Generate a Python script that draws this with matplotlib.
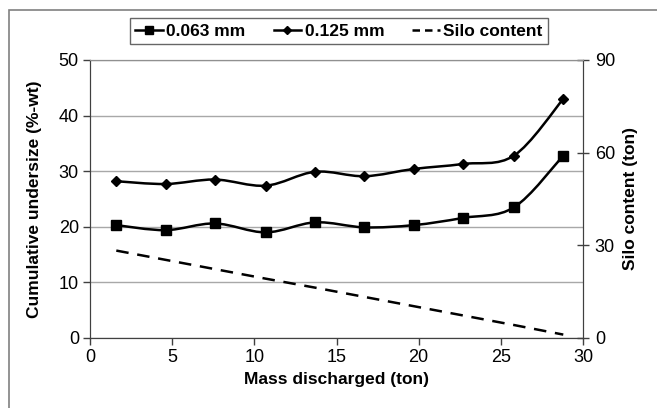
import numpy as np
import matplotlib
matplotlib.use("Agg")
import matplotlib.pyplot as plt
from matplotlib.path import Path
from matplotlib.patches import PathPatch, Rectangle
from matplotlib.lines import Line2D

mass = [1.6, 4.6, 7.6, 10.7, 13.7, 16.7, 19.7, 22.7, 25.8, 28.8]
u063 = [20.3, 19.4, 20.6, 19.0, 20.8, 19.9, 20.3, 21.6, 23.5, 32.8]
u125 = [28.2, 27.7, 28.5, 27.4, 29.9, 29.1, 30.4, 31.3, 32.8, 43.0]
silo = [28.3, 25.3, 22.3, 19.2, 16.3, 13.3, 10.3, 7.3, 4.2, 1.1]
xticks = [0, 5, 10, 15, 20, 25, 30]
yticks = [0, 10, 20, 30, 40, 50]
y2ticks = [0, 30, 60, 90]

plt.rcParams['font.family'] = ['Liberation Sans', 'DejaVu Sans']

fig = plt.figure(figsize=(6.57, 4.08), dpi=100)
# outer chart border (only left and top edges visible in the crop)
top = 1 - 10 / 408
fig.patches.append(Rectangle((9/657, -0.5), 2, top + 0.5, transform=fig.transFigure,
                             fill=False, edgecolor='#808080', lw=1.2))
ax = fig.add_axes([90/657, 1-338/408, (583-90)/657, (338-60)/408])
ax2 = ax.twinx()


def smooth_path(ax, xs, ys, t=1/6):
    pts = np.column_stack([xs, ys])
    disp = ax.transData.transform(pts)
    verts = [disp[0]]
    codes = [Path.MOVETO]
    n = len(disp)
    for i in range(n - 1):
        p0 = disp[i - 1] if i > 0 else disp[i]
        p1 = disp[i]
        p2 = disp[i + 1]
        p3 = disp[i + 2] if i + 2 < n else disp[i + 1]
        c1 = p1 + (p2 - p0) * t
        c2 = p2 - (p3 - p1) * t
        verts += [c1, c2, p2]
        codes += [Path.CURVE4] * 3
    verts = ax.transData.inverted().transform(np.array(verts))
    return Path(verts, codes)


ax.set_xlim(0, 30)
ax.set_ylim(0, 50)
ax2.set_ylim(0, 90)
fig.canvas.draw()

for ys, mk, ms in [(u063, 's', 7), (u125, 'D', 5)]:
    ax.add_patch(PathPatch(smooth_path(ax, mass, ys), fill=False, edgecolor='black', lw=1.8, zorder=3))
    ax.plot(mass, ys, linestyle='none', marker=mk, color='black', markersize=ms, zorder=4)

ax2.plot(mass, silo, color='black', lw=1.8, linestyle=(0, (5, 3.5)))

ax.set_xticks(xticks)
ax.set_yticks(yticks)
ax2.set_yticks(y2ticks)
ax.grid(axis='y', color='#a8a8a8', lw=1.0)
ax.set_axisbelow(True)

for a in (ax, ax2):
    for s in a.spines.values():
        s.set_color('#404040')
    a.spines['top'].set_color('#909090')
ax.tick_params(axis='both', direction='out', length=5, width=1, color='#404040', labelsize=13, pad=3)
ax2.tick_params(axis='y', direction='inout', length=9, width=1, color='#404040', labelsize=13, pad=4)

ax.set_xlabel('Mass discharged (ton)', fontsize=12.5, fontweight='bold', labelpad=4)
ax.set_ylabel('Cumulative undersize (%-wt)', fontsize=12.5, fontweight='bold', labelpad=12)
ax2.set_ylabel('Silo content (ton)', fontsize=12.5, fontweight='bold', labelpad=6)

handles = [Line2D([], [], color='black', lw=1.8, marker='s', markersize=6),
           Line2D([], [], color='black', lw=1.8, marker='D', markersize=4),
           Line2D([], [], color='black', lw=1.8, linestyle=(0, (3, 2)))]
leg = fig.legend(handles, ['0.063 mm', '0.125 mm', 'Silo content'], loc='center',
                 bbox_to_anchor=(339/657, 1-31/408), ncol=3, frameon=True, fancybox=False,
                 edgecolor='#404040', handlelength=1.6, handletextpad=0.2, columnspacing=1.6,
                 prop={'weight': 'bold', 'size': 12.5}, borderpad=0.3)
leg.get_frame().set_linewidth(1.0)

fig.savefig('out.png', dpi=100)
